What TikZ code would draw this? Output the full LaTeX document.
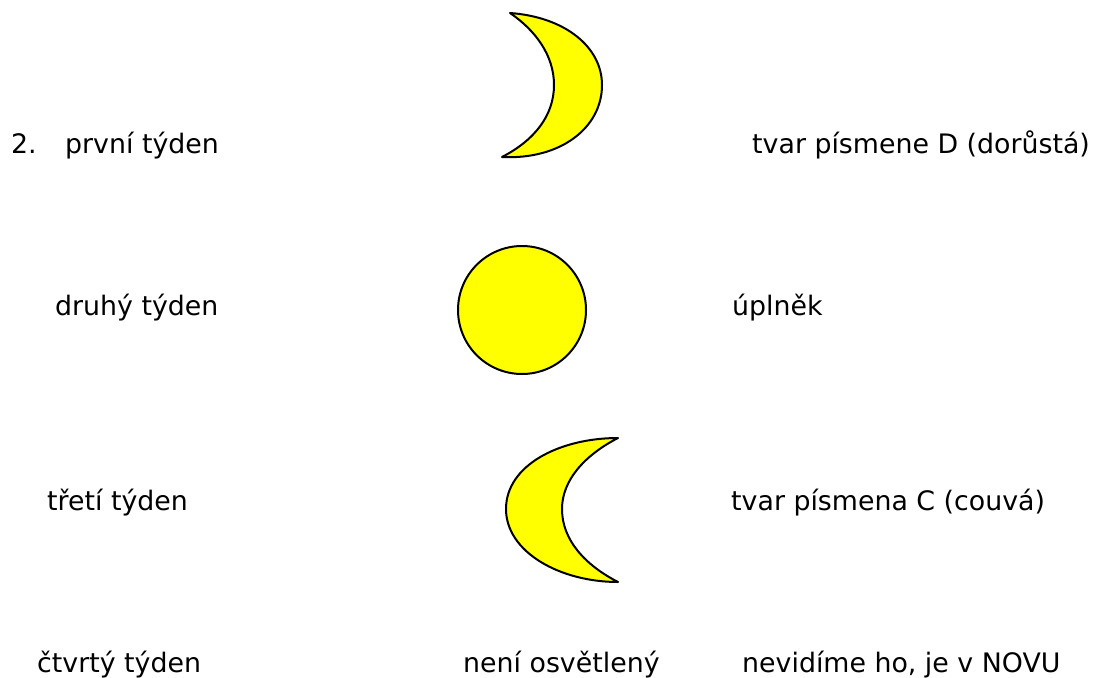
\documentclass[tikz,border=0pt]{standalone}
\usepackage{fontspec}
\setmainfont{DejaVu Sans}
\definecolor{moonyellow}{RGB}{255,255,0}
\tikzset{lbl/.style={anchor=base west,inner sep=0pt,font=\fontsize{26.8pt}{30pt}\selectfont,text=black},
moon/.style={draw=black,fill=moonyellow,line width=2pt,line join=round}}
\begin{document}
\begin{tikzpicture}[x=1pt,y=-1pt]
\useasboundingbox (0,0) rectangle (1094,677);
\node[lbl] (a0) at (11,153) {2.};
\node[lbl] (a1) at (65,153) {první týden};
\node[lbl] (a2) at (752,153) {tvar písmene D (dorůstá)};
\node[lbl] (b1) at (55,315) {druhý týden};
\node[lbl] (b2) at (732,315) {úplněk};
\node[lbl] (c1) at (47,510) {třetí týden};
\node[lbl] (c2) at (731,510) {tvar písmena C (couvá)};
\node[lbl] (d1) at (37,672) {čtvrtý týden};
\node[lbl] (d2) at (463,672) {není osvětlený};
\node[lbl] (d3) at (742,672) {nevidíme ho, je v NOVU};
\draw[moon] (510,13) .. controls (565,17) and (602,47) .. (602,85) .. controls (602,128) and (560,160) .. (502,157) .. controls (535,140) and (554,115) .. (554,85) .. controls (554,55) and (535,30) .. (510,13) -- cycle;
\draw[moon] (522,310) ellipse (64 and 64);
\draw[moon] (618,438) .. controls (560,438) and (506,465) .. (506,509) .. controls (506,552) and (560,582) .. (618,582) .. controls (585,565) and (562,540) .. (562,509) .. controls (562,480) and (585,455) .. (618,438) -- cycle;
\end{tikzpicture}
\end{document}
